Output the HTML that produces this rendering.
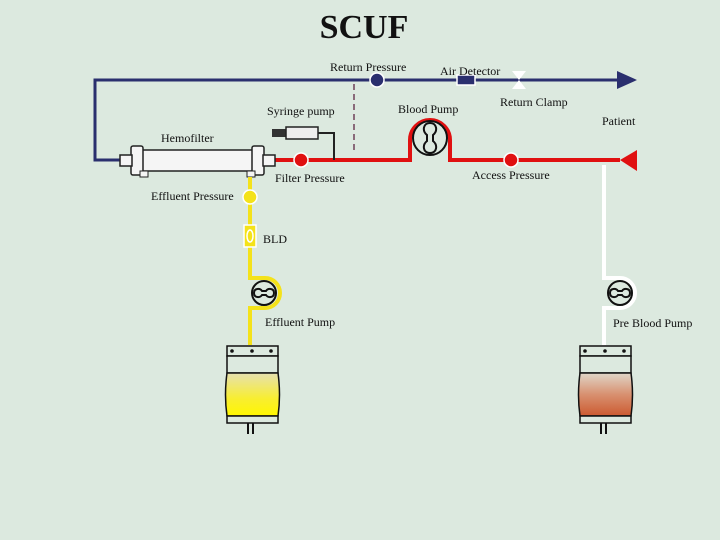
<!DOCTYPE html>
<html><head><meta charset="utf-8"><style>
body{margin:0;background:#dce9df;}
svg{display:block;}
text{font-family:"Liberation Serif",serif;font-size:12px;fill:#111;}
</style></head><body>
<svg width="720" height="540" viewBox="0 0 720 540">
<rect width="720" height="540" fill="#dce9df"/>
<text x="364" y="38" text-anchor="middle" style="font-size:34px;font-weight:bold">SCUF</text>
<!-- blue return line -->
<polyline points="122,160 95,160 95,80 620,80" fill="none" stroke="#2a2f6e" stroke-width="3"/>
<polygon points="617,71 637,80 617,89" fill="#2a2f6e"/>
<line x1="354" y1="84" x2="354" y2="152" stroke="#8a6a7a" stroke-width="2" stroke-dasharray="6,4"/>
<circle cx="377" cy="80" r="7" fill="#2a2f6e" stroke="#fff" stroke-width="1.5"/>
<rect x="457" y="75" width="18" height="10" fill="#2a2f6e" stroke="#fff" stroke-width="1.5"/>
<polygon points="512,71 526,71 519,80 526,89 512,89 519,80" fill="#fff"/>
<text x="330" y="71">Return Pressure</text>
<text x="440" y="75">Air Detector</text>
<text x="500" y="106">Return Clamp</text>
<text x="602" y="125">Patient</text>
<!-- red line -->
<path d="M275,160 H410 V140 A20,20 0 0 1 450,140 V160 H620" fill="none" stroke="#e01010" stroke-width="4"/>
<polygon points="637,150 620,160 637,171" fill="#e01010"/>
<circle cx="430" cy="138" r="17" fill="#dce9df" stroke="#111" stroke-width="2"/>
<path d="M430,123 C437,123 438,131 433,135 L433,141 C438,145 437,153 430,153 C423,153 422,145 427,141 L427,135 C422,131 423,123 430,123Z" fill="none" stroke="#111" stroke-width="2"/>
<circle cx="301" cy="160" r="7" fill="#e01010" stroke="#fff" stroke-width="1.5"/>
<circle cx="511" cy="160" r="7" fill="#e01010" stroke="#fff" stroke-width="1.5"/>
<text x="398" y="113">Blood Pump</text>
<text x="275" y="182">Filter Pressure</text>
<text x="472" y="179">Access Pressure</text>
<!-- syringe -->
<rect x="272" y="129" width="14" height="8" fill="#333"/>
<rect x="286" y="127" width="32" height="12" fill="#eee" stroke="#222" stroke-width="1.5"/>
<polyline points="318,133 334,133 334,160" fill="none" stroke="#222" stroke-width="2"/>
<text x="267" y="115">Syringe pump</text>
<!-- hemofilter -->
<rect x="140" y="150" width="115" height="21" fill="#f5f5f5" stroke="#222" stroke-width="1.5"/>
<rect x="131" y="146" width="12" height="29" rx="2" fill="#f5f5f5" stroke="#222" stroke-width="1.5"/>
<rect x="252" y="146" width="12" height="29" rx="2" fill="#f5f5f5" stroke="#222" stroke-width="1.5"/>
<rect x="120" y="155" width="12" height="11" fill="#f5f5f5" stroke="#222" stroke-width="1.5"/>
<rect x="263" y="155" width="12" height="11" fill="#f5f5f5" stroke="#222" stroke-width="1.5"/>
<rect x="140" y="171" width="8" height="6" fill="#f5f5f5" stroke="#222"/>
<rect x="247" y="171" width="8" height="6" fill="#f5f5f5" stroke="#222"/>
<text x="161" y="142">Hemofilter</text>
<!-- yellow -->
<path d="M250,177 V278 H265 A15,15 0 0 1 265,308 H250 V345" fill="none" stroke="#f4e21a" stroke-width="4"/>
<circle cx="250" cy="197" r="7" fill="#f4e21a" stroke="#fff" stroke-width="1.5"/>
<rect x="244" y="225" width="12" height="22" fill="#f4e21a" stroke="#fff" stroke-width="1.5"/>
<ellipse cx="250" cy="236" rx="3" ry="6" fill="none" stroke="#fff" stroke-width="1.5"/>
<circle cx="264" cy="293" r="12" fill="#dce9df" stroke="#111" stroke-width="2"/>
<path d="M254,293 C254,288 260,288 262,291 L266,291 C268,288 274,288 274,293 C274,298 268,298 266,295 L262,295 C260,298 254,298 254,293Z" fill="none" stroke="#111" stroke-width="2"/>
<text x="151" y="200">Effluent Pressure</text>
<text x="263" y="243">BLD</text>
<text x="265" y="326">Effluent Pump</text>
<!-- white -->
<path d="M604,165 V278 H620 A15,15 0 0 1 620,308 H604 V345" fill="none" stroke="#fff" stroke-width="4"/>
<circle cx="620" cy="293" r="12" fill="#dce9df" stroke="#111" stroke-width="2"/>
<path d="M610,293 C610,288 616,288 618,291 L622,291 C624,288 630,288 630,293 C630,298 624,298 622,295 L618,295 C616,298 610,298 610,293Z" fill="none" stroke="#111" stroke-width="2"/>
<text x="613" y="327">Pre Blood Pump</text>
<defs>
<linearGradient id="gy" x1="0" y1="0" x2="0" y2="1"><stop offset="0" stop-color="#e6e0b0"/><stop offset="0.6" stop-color="#f8ee30"/><stop offset="1" stop-color="#fff700"/></linearGradient>
<linearGradient id="go" x1="0" y1="0" x2="0" y2="1"><stop offset="0" stop-color="#e0d6c8"/><stop offset="0.5" stop-color="#d89070"/><stop offset="1" stop-color="#cc5a30"/></linearGradient>
</defs>
<g>
<rect x="227" y="346" width="51" height="10" fill="#dce9df" stroke="#111" stroke-width="1.5"/>
<circle cx="232" cy="351" r="1.8" fill="#111"/><circle cx="252" cy="351" r="1.8" fill="#111"/><circle cx="271" cy="351" r="1.8" fill="#111"/>
<rect x="227" y="356" width="51" height="17" fill="#dce9df" stroke="#111" stroke-width="1.5"/>
<path d="M227,373 H278 Q281,395 278,416 H227 Q224,395 227,373Z" fill="url(#gy)" stroke="#111" stroke-width="1.5"/>
<rect x="227" y="416" width="51" height="7" fill="#dce9df" stroke="#111" stroke-width="1.5"/>
<line x1="248" y1="423" x2="248" y2="434" stroke="#111" stroke-width="2"/>
<line x1="253" y1="423" x2="253" y2="434" stroke="#111" stroke-width="2"/>
</g>
<g transform="translate(353,0)">
<rect x="227" y="346" width="51" height="10" fill="#dce9df" stroke="#111" stroke-width="1.5"/>
<circle cx="232" cy="351" r="1.8" fill="#111"/><circle cx="252" cy="351" r="1.8" fill="#111"/><circle cx="271" cy="351" r="1.8" fill="#111"/>
<rect x="227" y="356" width="51" height="17" fill="#dce9df" stroke="#111" stroke-width="1.5"/>
<path d="M227,373 H278 Q281,395 278,416 H227 Q224,395 227,373Z" fill="url(#go)" stroke="#111" stroke-width="1.5"/>
<rect x="227" y="416" width="51" height="7" fill="#dce9df" stroke="#111" stroke-width="1.5"/>
<line x1="248" y1="423" x2="248" y2="434" stroke="#111" stroke-width="2"/>
<line x1="253" y1="423" x2="253" y2="434" stroke="#111" stroke-width="2"/>
</g>
</svg>
</body></html>
